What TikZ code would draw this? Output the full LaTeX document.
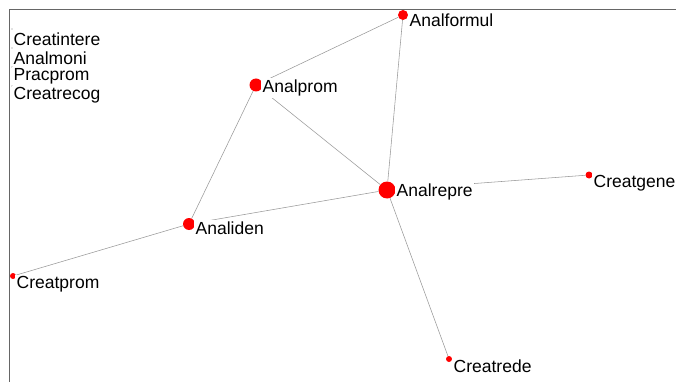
\documentclass[tikz,border=0pt]{standalone}
\usepackage{fontspec}
\setmainfont{Liberation Sans}
\usetikzlibrary{positioning}

\tikzset{
  dot/.style={circle, fill=red, inner sep=0pt, minimum size=#1},
  nlabel/.style={anchor=west, fill=white, inner sep=1.5pt, font=\fontsize{17.5}{20}\selectfont},
  tie/.style={draw=gray!80, line width=0.55pt},
}

\begin{document}
\begin{tikzpicture}[x=1pt, y=-1pt]%
   \useasboundingbox (0,0) rectangle (676,382);
   % frame
   \draw[gray!80!black, line width=0.8pt] (9,382) -- (9,9) -- (676,9);
   % vertices
   \node[dot=10pt] (analformul) at (403,15) {};
   \node[dot=13pt] (analprom) at (256,85) {};
   \node[dot=17pt] (analrepre) at (387,190) {};
   \node[dot=12pt] (analiden) at (189,224) {};
   \node[dot=7pt] (creatgene) at (589,175) {};
   \node[dot=6pt] (creatprom) at (13,276) {};
   \node[dot=6pt] (creatrede) at (449,359) {};
   \node[dot=1.2pt, fill=gray] (creatintere) at (12,29) {};
   \node[dot=1.2pt, fill=gray] (analmoni) at (12,48) {};
   \node[dot=1.2pt, fill=gray] (pracprom) at (12,67) {};
   \node[dot=1.2pt, fill=gray] (creatrecog) at (12,86) {};
   % ties
   \draw[tie] (analformul) -- (analprom);
   \draw[tie] (analformul) -- (analrepre);
   \draw[tie] (analprom) -- (analrepre);
   \draw[tie] (analprom) -- (analiden);
   \draw[tie] (analiden) -- (analrepre);
   \draw[tie] (analiden) -- (creatprom);
   \draw[tie] (analrepre) -- (creatgene);
   \draw[tie] (analrepre) -- (creatrede);
   % names
   \node[nlabel] (analformul-l) at (408,20) {Analformul};
   \node[nlabel] (analprom-l) at (261,88) {Analprom};
   \node[nlabel] (analrepre-l) at (395,192) {Analrepre};
   \node[nlabel] (analiden-l) at (194,228) {Analiden};
   \node[nlabel] (creatgene-l) at (592,183) {Creatgene};
   \node[nlabel] (creatprom-l) at (15,284) {Creatprom};
   \node[nlabel] (creatrede-l) at (452,366) {Creatrede};
   \node[nlabel] (creatintere-l) at (12,39) {Creatintere};
   \node[nlabel] (analmoni-l) at (12,58) {Analmoni};
   \node[nlabel] (pracprom-l) at (12,76) {Pracprom};
   \node[nlabel] (creatrecog-l) at (12,95) {Creatrecog};
\end{tikzpicture}
\end{document}
